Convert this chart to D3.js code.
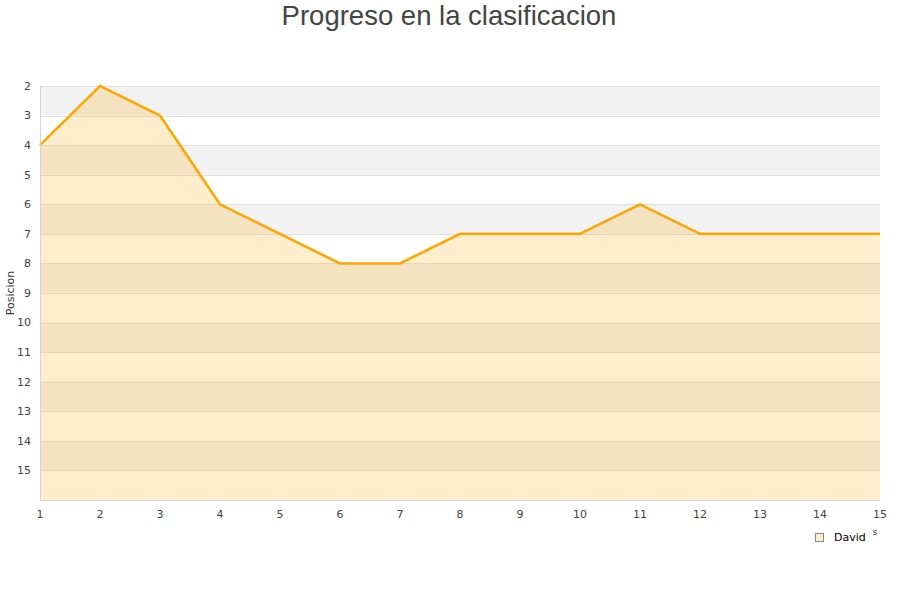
<!DOCTYPE html>
<html><head><meta charset="utf-8">
<script src="https://cdn.jsdelivr.net/npm/d3@7/dist/d3.min.js"></script>
<style>body{margin:0;background:#fff}svg{display:block}</style>
</head><body>
<svg id="c" width="900" height="600"></svg>
<script>
const jornadas = [1,2,3,4,5,6,7,8,9,10,11,12,13,14,15];
const posicion = [4,2,3,6,7,8,8,7,7,7,6,7,7,7,7];
const yTicks = [2,3,4,5,6,7,8,9,10,11,12,13,14,15];
const seriesName = "David";
const title = "Progreso en la clasificacion";
const yTitle = "Posicion";

(function(){
const svg = d3.select("#c");
const pL = 40, pR = 880, pT = 86, pB = 500;
const x = d3.scaleLinear().domain([1,15]).range([pL,pR]);
const y = d3.scaleLinear().domain([2,16]).range([pT,pB]);

// bands
const bands = d3.range(2,16);
svg.append("g").selectAll("rect").data(bands).join("rect")
  .attr("x", pL).attr("width", pR-pL)
  .attr("y", d=>y(d)).attr("height", d=>y(d+1)-y(d))
  .attr("fill", d=> d%2===0 ? "#f2f2f2" : "#ffffff");
// grid lines
svg.append("g").selectAll("line").data(d3.range(2,16)).join("line")
  .attr("x1", pL).attr("x2", pR)
  .attr("y1", d=>Math.round(y(d))+0.5).attr("y2", d=>Math.round(y(d))+0.5)
  .attr("stroke", "#e0e0e0").attr("stroke-width", 1);

// area
const area = d3.area().x((d,i)=>x(jornadas[i])).y0(y(16)).y1(d=>y(d));
svg.append("path").datum(posicion).attr("d", area)
  .attr("fill", "rgb(255,165,0)").attr("fill-opacity", 0.2);
const line = d3.line().x((d,i)=>x(jornadas[i])).y(d=>y(d));
svg.append("path").datum(posicion).attr("d", line)
  .attr("fill","none").attr("stroke","#ffa500").attr("stroke-width",2.5)
  .attr("stroke-linejoin","miter");

// axis lines
svg.append("line").attr("x1", pL+0.5).attr("x2", pL+0.5).attr("y1", pT).attr("y2", pB)
  .attr("stroke","#d4d4d4");
svg.append("line").attr("x1", pL).attr("x2", pR).attr("y1", pB+0.5).attr("y2", pB+0.5)
  .attr("stroke","#d4d4d4");

// y labels
svg.append("g").selectAll("text").data(yTicks).join("text")
  .attr("x", 31).attr("y", d=>y(d)).attr("dy","0.35em")
  .attr("text-anchor","end").attr("font-family","DejaVu Sans").attr("font-size",11)
  .attr("fill","#444").text(d=>d);
// x labels
svg.append("g").selectAll("text").data(jornadas).join("text")
  .attr("x", d=>x(d)).attr("y", 514).attr("dy","0.35em")
  .attr("text-anchor","middle").attr("font-family","DejaVu Sans").attr("font-size",11)
  .attr("fill","#444").text(d=>d);

// y title
svg.append("text").attr("transform","translate(14,293) rotate(-90)")
  .attr("text-anchor","middle").attr("font-family","DejaVu Sans").attr("font-size",11)
  .attr("fill","#333").text(yTitle);

// title
svg.append("text").attr("x",449).attr("y",25).attr("text-anchor","middle")
  .attr("font-family","Liberation Sans, Arial, sans-serif").attr("font-size",27.5)
  .attr("fill","#444").text(title);

// clipped axis title fragment
svg.append("text").attr("x",875).attr("y",535).attr("text-anchor","middle")
  .attr("font-family","DejaVu Sans").attr("font-size",9).attr("fill","#333").text("s");

// legend
svg.append("rect").attr("x",815.5).attr("y",533.5).attr("width",8).attr("height",8)
  .attr("fill","#ffedcc").attr("stroke","#888").attr("stroke-width",1);
svg.append("text").attr("x",834).attr("y",537).attr("dy","0.35em")
  .attr("font-family","DejaVu Sans").attr("font-size",11).attr("fill","#000").text(seriesName);
})();
</script>
</body></html>
